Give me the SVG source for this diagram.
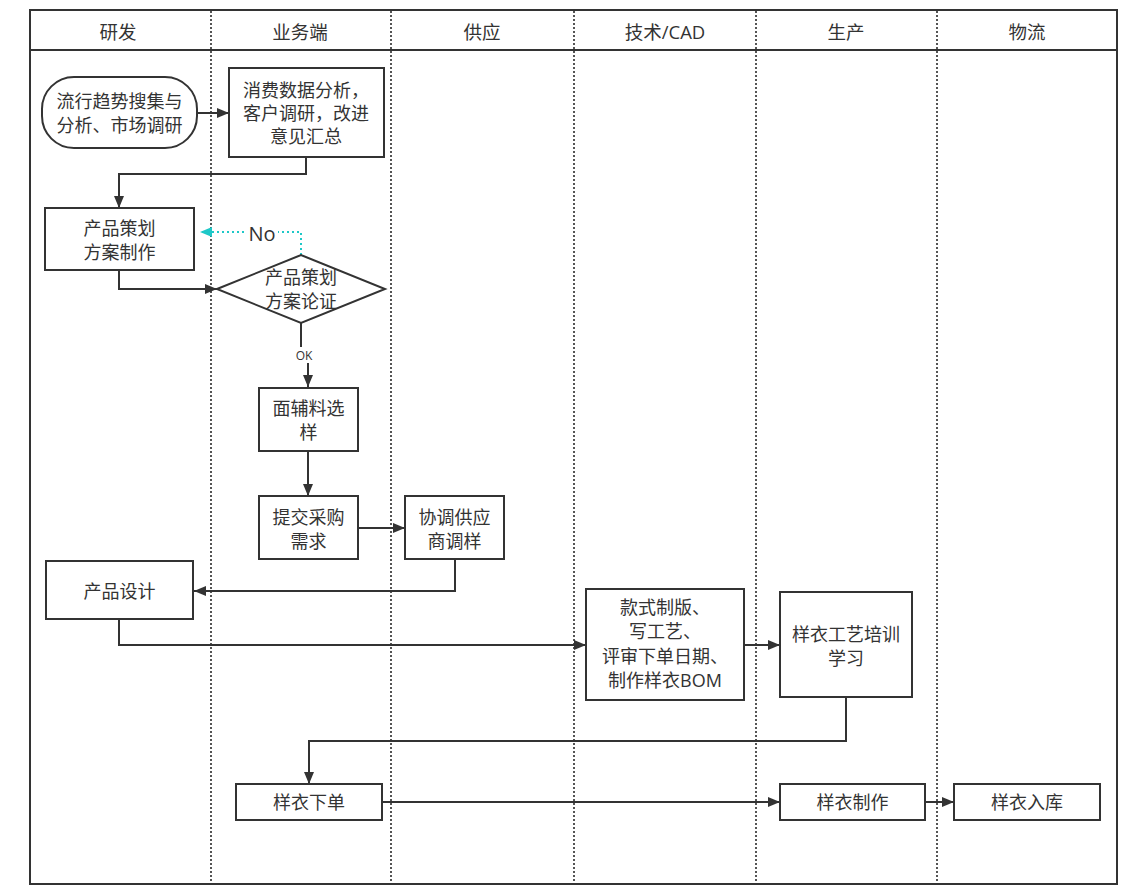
<svg xmlns="http://www.w3.org/2000/svg" width="1134" height="888" viewBox="0 0 1134 888">
<defs>
<marker id="ah" viewBox="0 0 12 10" refX="12" refY="5" markerWidth="12" markerHeight="10" markerUnits="userSpaceOnUse" orient="auto"><path d="M0,0 L12,5 L0,10 Z" fill="#333"/></marker>
<marker id="ahc" viewBox="0 0 12 10" refX="12" refY="5" markerWidth="12" markerHeight="10" markerUnits="userSpaceOnUse" orient="auto"><path d="M0,0 L12,5 L0,10 Z" fill="#1ec8c8"/></marker>
<style>
text{font-family:"Open Sans","Noto Sans CJK SC",sans-serif;fill:#333;font-size:18px;text-anchor:middle;dominant-baseline:central}
.hd{font-size:18.5px}
.box{fill:#fff;stroke:#333;stroke-width:2}
.lane{stroke:#555;stroke-width:2;stroke-dasharray:2 2;fill:none}
.c{fill:none;stroke:#333;stroke-width:2;marker-end:url(#ah)}
.cn{fill:none;stroke:#1ec8c8;stroke-width:2;stroke-dasharray:2 3;marker-end:url(#ahc)}
</style>
</defs>
<g id="frame">
<rect x="30" y="10" width="1087" height="874" fill="#fff" stroke="#333" stroke-width="2"/>
<line x1="30" y1="50" x2="1117" y2="50" stroke="#333" stroke-width="2"/>
<line class="lane" x1="211" y1="11" x2="211" y2="883"/>
<line class="lane" x1="391" y1="11" x2="391" y2="883"/>
<line class="lane" x1="574" y1="11" x2="574" y2="883"/>
<line class="lane" x1="756" y1="11" x2="756" y2="883"/>
<line class="lane" x1="937" y1="11" x2="937" y2="883"/>
<text class="hd" x="118" y="31">研发</text>
<text class="hd" x="300" y="31">业务端</text>
<text class="hd" x="482" y="31">供应</text>
<text class="hd" x="665" y="31">技术/CAD</text>
<text class="hd" x="846" y="31">生产</text>
<text class="hd" x="1027" y="31">物流</text>
</g>
<g id="connectors">
<path class="c" d="M197,113 H229"/>
<path class="c" d="M306,157 V174 H119 V208"/>
<path class="c" d="M119,271 V289 H217"/>
<path class="cn" d="M301,255 V232 H200"/>
<rect x="246" y="221" width="32" height="24" fill="#fff"/>
<text x="262" y="233" style="font-size:20px">No</text>
<path class="c" d="M301,323 V350 H308 V387"/>
<rect x="294" y="347" width="22" height="16" fill="#fff"/>
<text x="304" y="355" style="font-size:12px">OK</text>
<path class="c" d="M308,451 V496"/>
<path class="c" d="M358,528 H405"/>
<path class="c" d="M455,559 V591 H194"/>
<path class="c" d="M119,619 V645 H586"/>
<path class="c" d="M744,645 H780"/>
<path class="c" d="M846,697 V741 H309 V784"/>
<path class="c" d="M382,802 H780"/>
<path class="c" d="M925,802 H954"/>
</g>
<g id="n1"><rect class="box" x="42" y="77" width="155" height="71" rx="32"/><text x="119.5" y="101">流行趋势搜集与</text><text x="119.5" y="125">分析、市场调研</text></g>
<g id="n2"><rect class="box" x="229" y="68" width="155" height="89"/><text x="306" y="90">消费数据分析，</text><text x="306" y="113">客户调研，改进</text><text x="306" y="136">意见汇总</text></g>
<g id="n3"><rect class="box" x="45" y="208" width="149" height="62"/><text x="119.5" y="228">产品策划</text><text x="119.5" y="252">方案制作</text></g>
<g id="n4"><path class="box" d="M217,289 L301,255 L385,289 L301,323 Z"/><text x="301" y="277">产品策划</text><text x="301" y="301">方案论证</text></g>
<g id="n5"><rect class="box" x="259" y="388" width="99" height="63"/><text x="308.5" y="408">面辅料选</text><text x="308.5" y="432">样</text></g>
<g id="n6"><rect class="box" x="259" y="496" width="99" height="63"/><text x="308.5" y="517">提交采购</text><text x="308.5" y="541">需求</text></g>
<g id="n7"><rect class="box" x="405" y="496" width="99" height="63"/><text x="454.5" y="517">协调供应</text><text x="454.5" y="541">商调样</text></g>
<g id="n8"><rect class="box" x="46" y="561" width="147" height="58"/><text x="119.5" y="591">产品设计</text></g>
<g id="n9"><rect class="box" x="586" y="589" width="158" height="111"/><text x="665" y="607">款式制版、</text><text x="665" y="631">写工艺、</text><text x="665" y="656">评审下单日期、</text><text x="665" y="680">制作样衣BOM</text></g>
<g id="n10"><rect class="box" x="780" y="592" width="132" height="105"/><text x="846" y="634">样衣工艺培训</text><text x="846" y="658">学习</text></g>
<g id="n11"><rect class="box" x="236" y="784" width="146" height="36"/><text x="309" y="802">样衣下单</text></g>
<g id="n12"><rect class="box" x="780" y="784" width="145" height="36"/><text x="852.5" y="802">样衣制作</text></g>
<g id="n13"><rect class="box" x="954" y="784" width="146" height="36"/><text x="1027" y="802">样衣入库</text></g>
</svg>
